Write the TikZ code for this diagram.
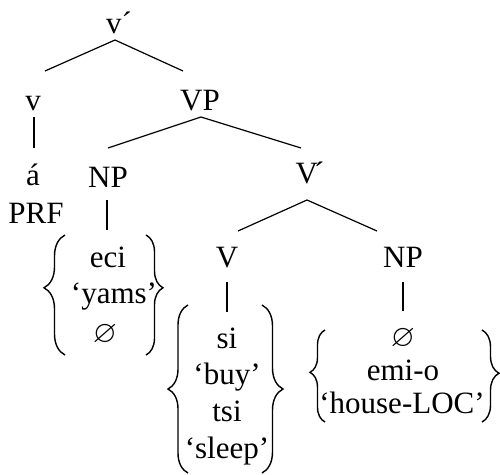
\documentclass[tikz,border=0pt]{standalone}
\usepackage{fix-cm}
\usepackage{amssymb}
\usepackage{fontspec}
\setmainfont{Liberation Serif}
\usetikzlibrary{calc,decorations.pathreplacing}
\begin{document}
\begin{tikzpicture}[x=1pt,y=-1pt,
  lbl/.style={anchor=base,inner sep=0pt,font=\fontsize{31}{36}\selectfont},
  branch/.style={line width=1.2pt},
  curly/.style={line width=1.4pt,decorate,decoration={brace,amplitude=#1}},
  curlyasp/.style 2 args={line width=1.4pt,decorate,decoration={brace,amplitude=#1,aspect=#2}},
]
\useasboundingbox (0,0) rectangle (500,474);
% tree labels
\node[lbl] (vbar) at (119,33) {v´};
\node[lbl] (v) at (33,110) {v};
\node[lbl] (VP) at (200,110) {VP};
\node[lbl] (prf1) at (33,185) {á};
\node[lbl] (prf2) at (36,223) {PRF};
\node[lbl] (NPa) at (108,187) {NP};
\node[lbl] (Vbar) at (310,183) {V\kern-4pt´};
\node[lbl] (V) at (227,267) {V};
\node[lbl] (NPb) at (403,267) {NP};
% group 1
\node[lbl] (eci) at (108,267) {eci};
\node[lbl] (yams) at (114,303) {‘yams’};
\node[lbl] (nulla) at (105,342) {$\varnothing$};
% group 2
\node[lbl] (si) at (227,348) {si};
\node[lbl] (buy) at (227,384) {‘buy’};
\node[lbl] (tsi) at (227,421) {tsi};
\node[lbl] (sleep) at (227,458) {‘sleep’};
% group 3
\node[lbl] (nullb) at (403,346) {$\varnothing$};
\node[lbl] (emio) at (403,380) {emi-o};
\node[lbl] (house) at (402,413) {‘house-LOC’};
% branches
\draw[branch] ($(vbar.base)+(-4,7)$) -- ($(v.base)+(12,-39)$);
\draw[branch] ($(vbar.base)+(-4,7)$) -- ($(VP.base)+(-17,-39)$);
\draw[branch] ($(v.base)+(1,7)$) -- ($(prf1.base)+(1,-37)$);
\draw[branch] ($(VP.base)+(1,7)$) -- ($(NPa.base)+(0,-39)$);
\draw[branch] ($(VP.base)+(1,7)$) -- ($(Vbar.base)+(-9,-35)$);
\draw[branch] ($(NPa.base)+(-1,13)$) -- ($(eci.base)+(-1,-37)$);
\draw[branch] ($(Vbar.base)+(-3,17)$) -- ($(V.base)+(11,-36)$);
\draw[branch] ($(Vbar.base)+(-3,17)$) -- ($(NPb.base)+(-26,-36)$);
\draw[branch] ($(V.base)+(0,15)$) -- ($(si.base)+(0,-36)$);
\draw[branch] ($(NPb.base)+(0,15)$) -- ($(nullb.base)+(0,-35)$);
% braces
\draw[curlyasp={21}{0.56}] (65,355) -- (65,235);
\draw[curlyasp={17}{0.44}] (146,235) -- (146,355);
\draw[curly=20] (188,473) -- (188,305);
\draw[curly=21] (262,305) -- (262,473);
\draw[curlyasp={15}{0.54}] (325,422) -- (325,330);
\draw[curlyasp={17}{0.47}] (482,330) -- (482,422);
\end{tikzpicture}
\end{document}
